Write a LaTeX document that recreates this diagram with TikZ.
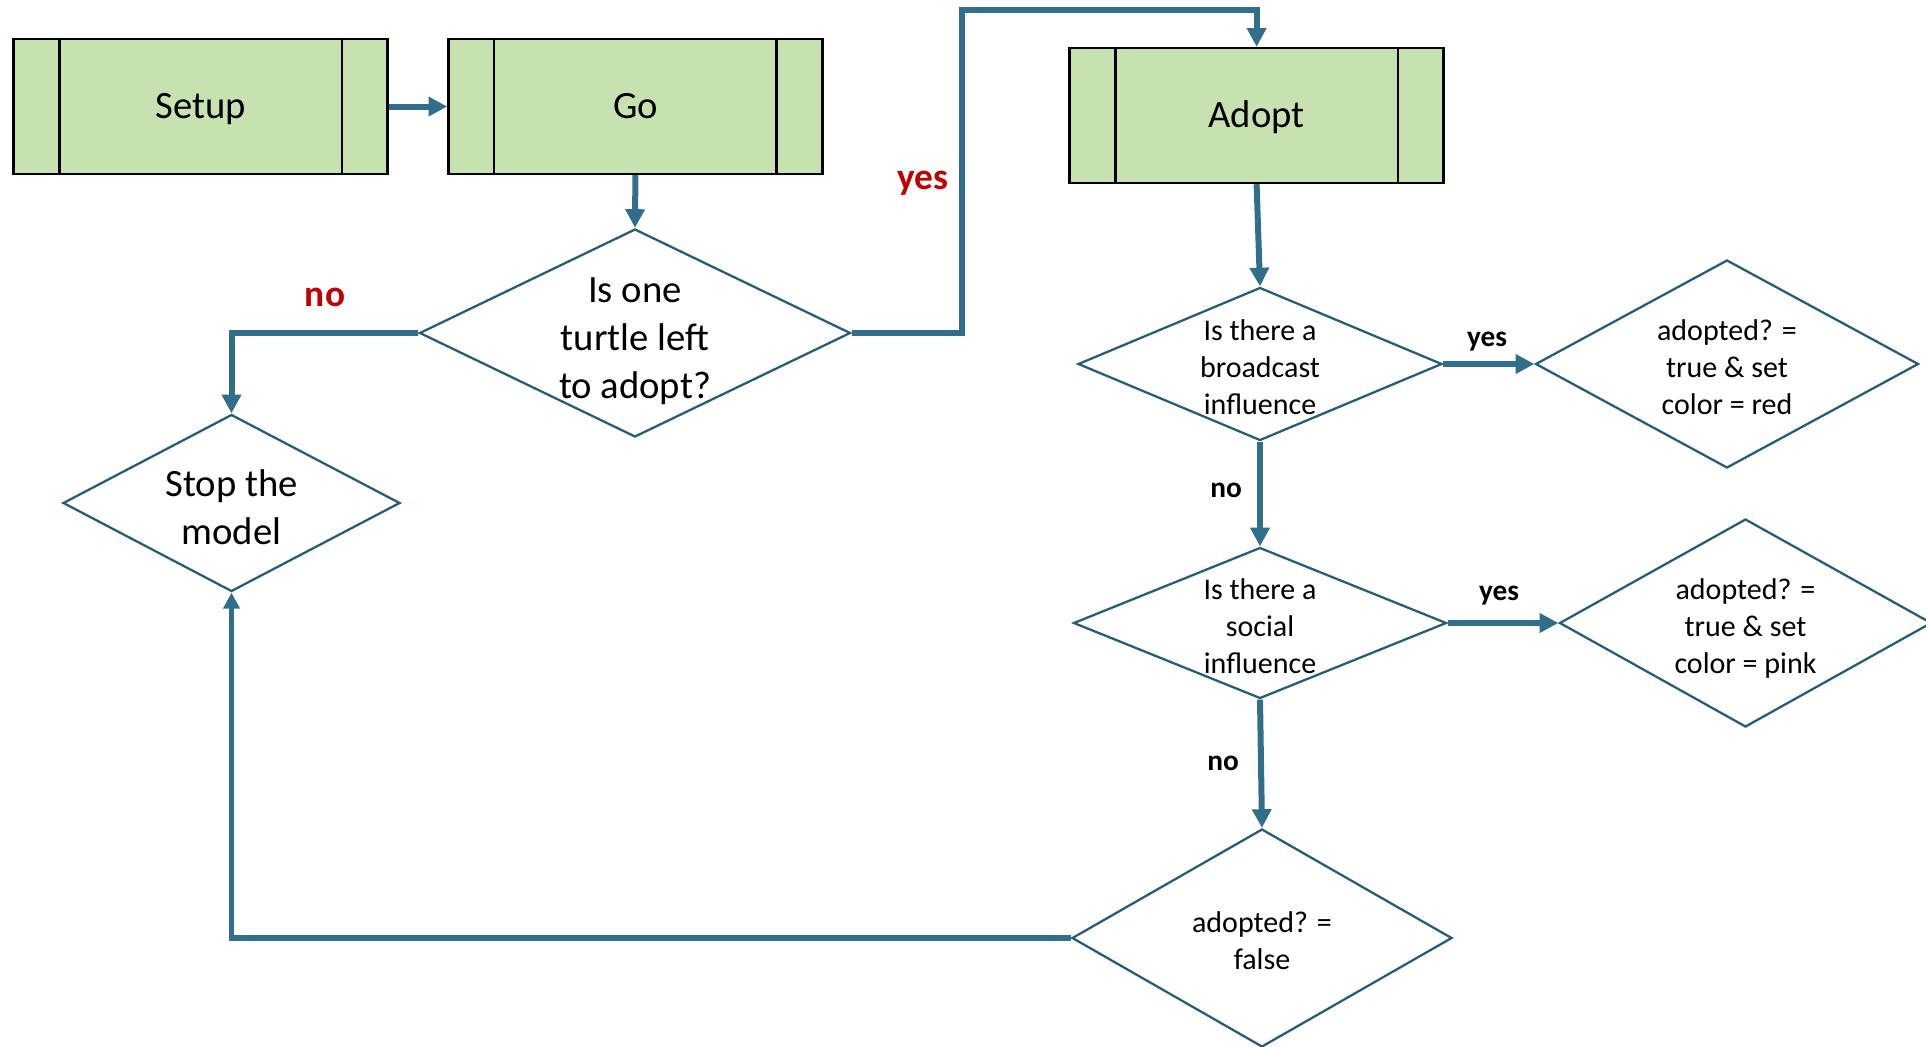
\documentclass[tikz,border=0pt]{standalone}
\usepackage{fontspec}
\setmainfont{Carlito}
\usetikzlibrary{shapes.geometric,arrows.meta}
\definecolor{flow}{RGB}{49,110,140}
\definecolor{edgecol}{RGB}{40,92,115}
\definecolor{boxgreen}{RGB}{200,225,176}
\definecolor{lblred}{RGB}{192,0,0}
\newcommand{\dtext}[1]{\smash{\makebox[0pt]{\raisebox{-0.42em}{\begin{tabular}{@{}c@{}}#1\end{tabular}}}}}
\begin{document}
\begin{tikzpicture}[x=0.75pt,y=-0.75pt,
  procbox/.style={draw=black,line width=1.8pt,fill=boxgreen,minimum width=280.5pt,minimum height=101.25pt,inner sep=0pt,font=\fontsize{29}{35}\selectfont,text height=18.7pt,text depth=0pt},
  decision/.style={shape=diamond,draw=edgecol,line width=1.7pt,inner sep=0pt,fill=white},
  bigtxt/.style={font=\fontsize{29}{36}\selectfont},
  smalltxt/.style={font=\fontsize{22.5}{27.7}\selectfont},
  flowline/.style={draw=flow,line width=4.5pt,-{Triangle[length=14pt,width=14pt]}},
  flowthin/.style={draw=flow,line width=3.8pt,-{Triangle[length=12pt,width=12pt]}},
  redlbl/.style={text=lblred,font=\bfseries\fontsize{28}{34}\selectfont,inner sep=0pt},
  blklbl/.style={text=black,font=\bfseries\fontsize{22}{26}\selectfont,inner sep=0pt}
]
\path[use as bounding box,clip] (0,0) rectangle (1926,1046);

% process boxes
\node[procbox] (setup) at (200.5,106.5) {Setup};
\node[procbox] (go) at (635.4,106.5) {Go};
\node[procbox] (adopt) at (1256.6,115.5) {Adopt};
\foreach \n in {setup,go,adopt}{
  \draw[line width=1.8pt] ([xshift=35.25pt]\n.north west) -- ([xshift=35.25pt]\n.south west);
  \draw[line width=1.8pt] ([xshift=-35.25pt]\n.north east) -- ([xshift=-35.25pt]\n.south east);
}

% decisions
\node[decision,bigtxt,minimum width=323.25pt,minimum height=156pt] (q1) at (635,333) {\dtext{Is one\\turtle left\\to adopt?}};
\node[decision,bigtxt,minimum width=252.75pt,minimum height=132.75pt] (stop) at (231.5,503) {\dtext{Stop the\\model}};
\node[decision,smalltxt,minimum width=273pt,minimum height=114.75pt] (q2) at (1260,364) {\dtext{Is there a\\broadcast\\influence}};
\node[decision,smalltxt,minimum width=287.25pt,minimum height=156pt] (red) at (1727,364) {\dtext{adopted? =\\true \& set\\color = red}};
\node[decision,smalltxt,minimum width=279.75pt,minimum height=113.25pt] (q3) at (1260,623) {\dtext{Is there a\\social\\influence}};
\node[decision,smalltxt,minimum width=279pt,minimum height=156pt] (pink) at (1745.5,623) {\dtext{adopted? =\\true \& set\\color = pink}};
\node[decision,smalltxt,minimum width=285pt,minimum height=163.5pt] (false) at (1262,938) {\dtext{adopted? =\\false}};

% connectors
\coordinate (ycorner) at (962,10);
\draw[flowline] (setup.east) -- (go.west);
\draw[flowline] (go.south) -- (q1.north);
\draw[flowline] (q1.west) -| (stop.north);
\draw[flowline] (q1.east) -| (ycorner) -| (adopt.north);
\draw[flowline] (adopt.south) -- (q2.north);
\draw[flowline] (q2.east) -- (red.west);
\draw[flowline] (q2.south) -- (q3.north);
\draw[flowline] (q3.east) -- (pink.west);
\draw[flowline] (q3.south) -- (false.north);
\draw[flowthin] (false.west) -| (stop.south);

% labels
\node[redlbl] (noA) at (325,297) {no};
\node[redlbl] (yesA) at (923,183) {yes};
\node[blklbl] (yesB) at (1487,342) {yes};
\node[blklbl] (noB) at (1226,490) {no};
\node[blklbl] (yesC) at (1499,596) {yes};
\node[blklbl] (noC) at (1223,763) {no};
\end{tikzpicture}
\end{document}
